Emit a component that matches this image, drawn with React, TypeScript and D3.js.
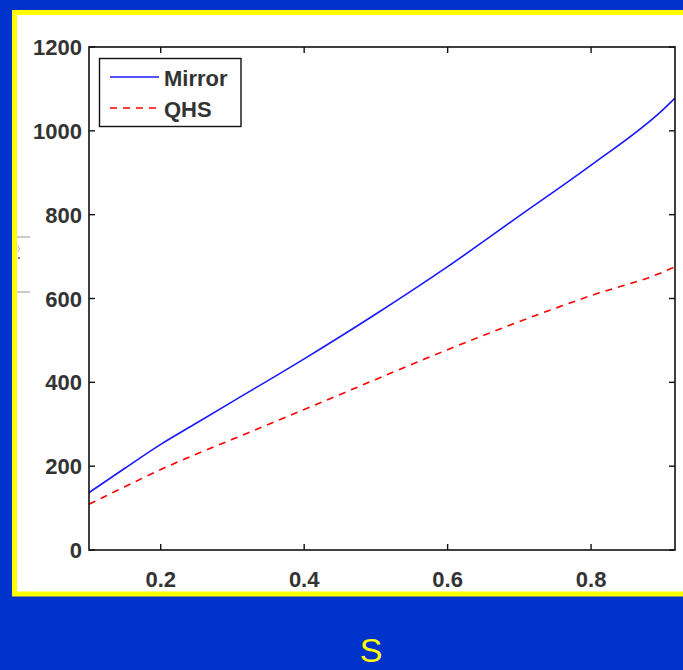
import React from "react";
import * as d3 from "d3";

const sValues = [0.1, 0.15, 0.2, 0.25, 0.3, 0.4, 0.5, 0.6, 0.7, 0.8, 0.9, 0.917];
const mirrorValues = [137, 195, 252, 303, 354, 456, 563, 676, 797, 918, 1050, 1078];
const qhsValues = [109, 151, 192, 229, 264, 335, 407, 478, 545, 607, 663, 676];
const xTicks = [0.2, 0.4, 0.6, 0.8];
const yTicks = [0, 200, 400, 600, 800, 1000, 1200];
const legendLabels = ["Mirror", "QHS"];
const xLabel = "S";

export default function App() {
  const W = 683, H = 670;
  const left = 89, right = 675, top = 47, bottom = 550;
  const x = d3.scaleLinear().domain([0.1, 0.917]).range([left, right]);
  const y = d3.scaleLinear().domain([0, 1200]).range([bottom, top]);
  const line = (vals: number[]) =>
    d3.line<number>().x((_, i) => x(sValues[i])).y((d) => y(d)).curve(d3.curveMonotoneX)(vals) || "";
  const font = "Liberation Sans, Arial, sans-serif";
  const tickLen = 6;
  return (
    <div style={{ position: "absolute", left: 0, top: 0, width: W, height: H }}>
      <svg width={W} height={H} style={{ display: "block" }}>
        <rect x={0} y={0} width={W} height={H} fill="#0033cc" />
        <rect x={14.5} y={12.5} width={W + 20} height={581.5} fill="#ffffff" stroke="#ffff00" strokeWidth={5} />
        {/* faint cut-off label remnants */}
        <line x1={17} x2={30} y1={237} y2={237} stroke="#bbbbbb" strokeWidth={1.5} />
        <line x1={17} x2={30} y1={292} y2={292} stroke="#bbbbbb" strokeWidth={1.5} />
        <circle cx={19} cy={258} r={1} fill="#555" />
        <path d={`M18,246 q3,3 0,6`} fill="none" stroke="#aaa" strokeWidth={1} />
        {/* series */}
        <path d={line(mirrorValues)} fill="none" stroke="#1a1aff" strokeWidth={1.6} />
        <path d={line(qhsValues)} fill="none" stroke="#ff0000" strokeWidth={1.6} strokeDasharray="7,6" />
        {/* axes box */}
        <rect x={left} y={top} width={right - left} height={bottom - top} fill="none" stroke="#111" strokeWidth={1.6} />
        {xTicks.map((t) => (
          <g key={"x" + t}>
            <line x1={x(t)} x2={x(t)} y1={bottom} y2={bottom - tickLen} stroke="#111" strokeWidth={1.4} />
            <line x1={x(t)} x2={x(t)} y1={top} y2={top + tickLen} stroke="#111" strokeWidth={1.4} />
            <text x={x(t)} y={587} textAnchor="middle" fontFamily={font} fontSize={22} fontWeight="bold" fill="#333">
              {t.toFixed(1)}
            </text>
          </g>
        ))}
        {yTicks.map((t) => (
          <g key={"y" + t}>
            <line x1={left} x2={left + tickLen} y1={y(t)} y2={y(t)} stroke="#111" strokeWidth={1.4} />
            <line x1={right} x2={right - tickLen} y1={y(t)} y2={y(t)} stroke="#111" strokeWidth={1.4} />
            <text x={82} y={y(t) + 8} textAnchor="end" fontFamily={font} fontSize={22} fontWeight="bold" fill="#333">
              {t}
            </text>
          </g>
        ))}
        {/* legend */}
        <rect x={99.5} y={58.5} width={141.5} height={68} fill="#ffffff" stroke="#111" strokeWidth={1.4} />
        <line x1={110} x2={159} y1={77} y2={77} stroke="#1a1aff" strokeWidth={1.6} />
        <line x1={110} x2={159} y1={108} y2={108} stroke="#ff0000" strokeWidth={1.6} strokeDasharray="7,6" />
        <text x={164} y={86} fontFamily={font} fontSize={22} fontWeight="bold" fill="#333">{legendLabels[0]}</text>
        <text x={164} y={117} fontFamily={font} fontSize={22} fontWeight="bold" fill="#333">{legendLabels[1]}</text>
        {/* x label */}
        <text x={371} y={662} textAnchor="middle" fontFamily={font} fontSize={34} fill="#ffff00">{xLabel}</text>
      </svg>
    </div>
  );
}
